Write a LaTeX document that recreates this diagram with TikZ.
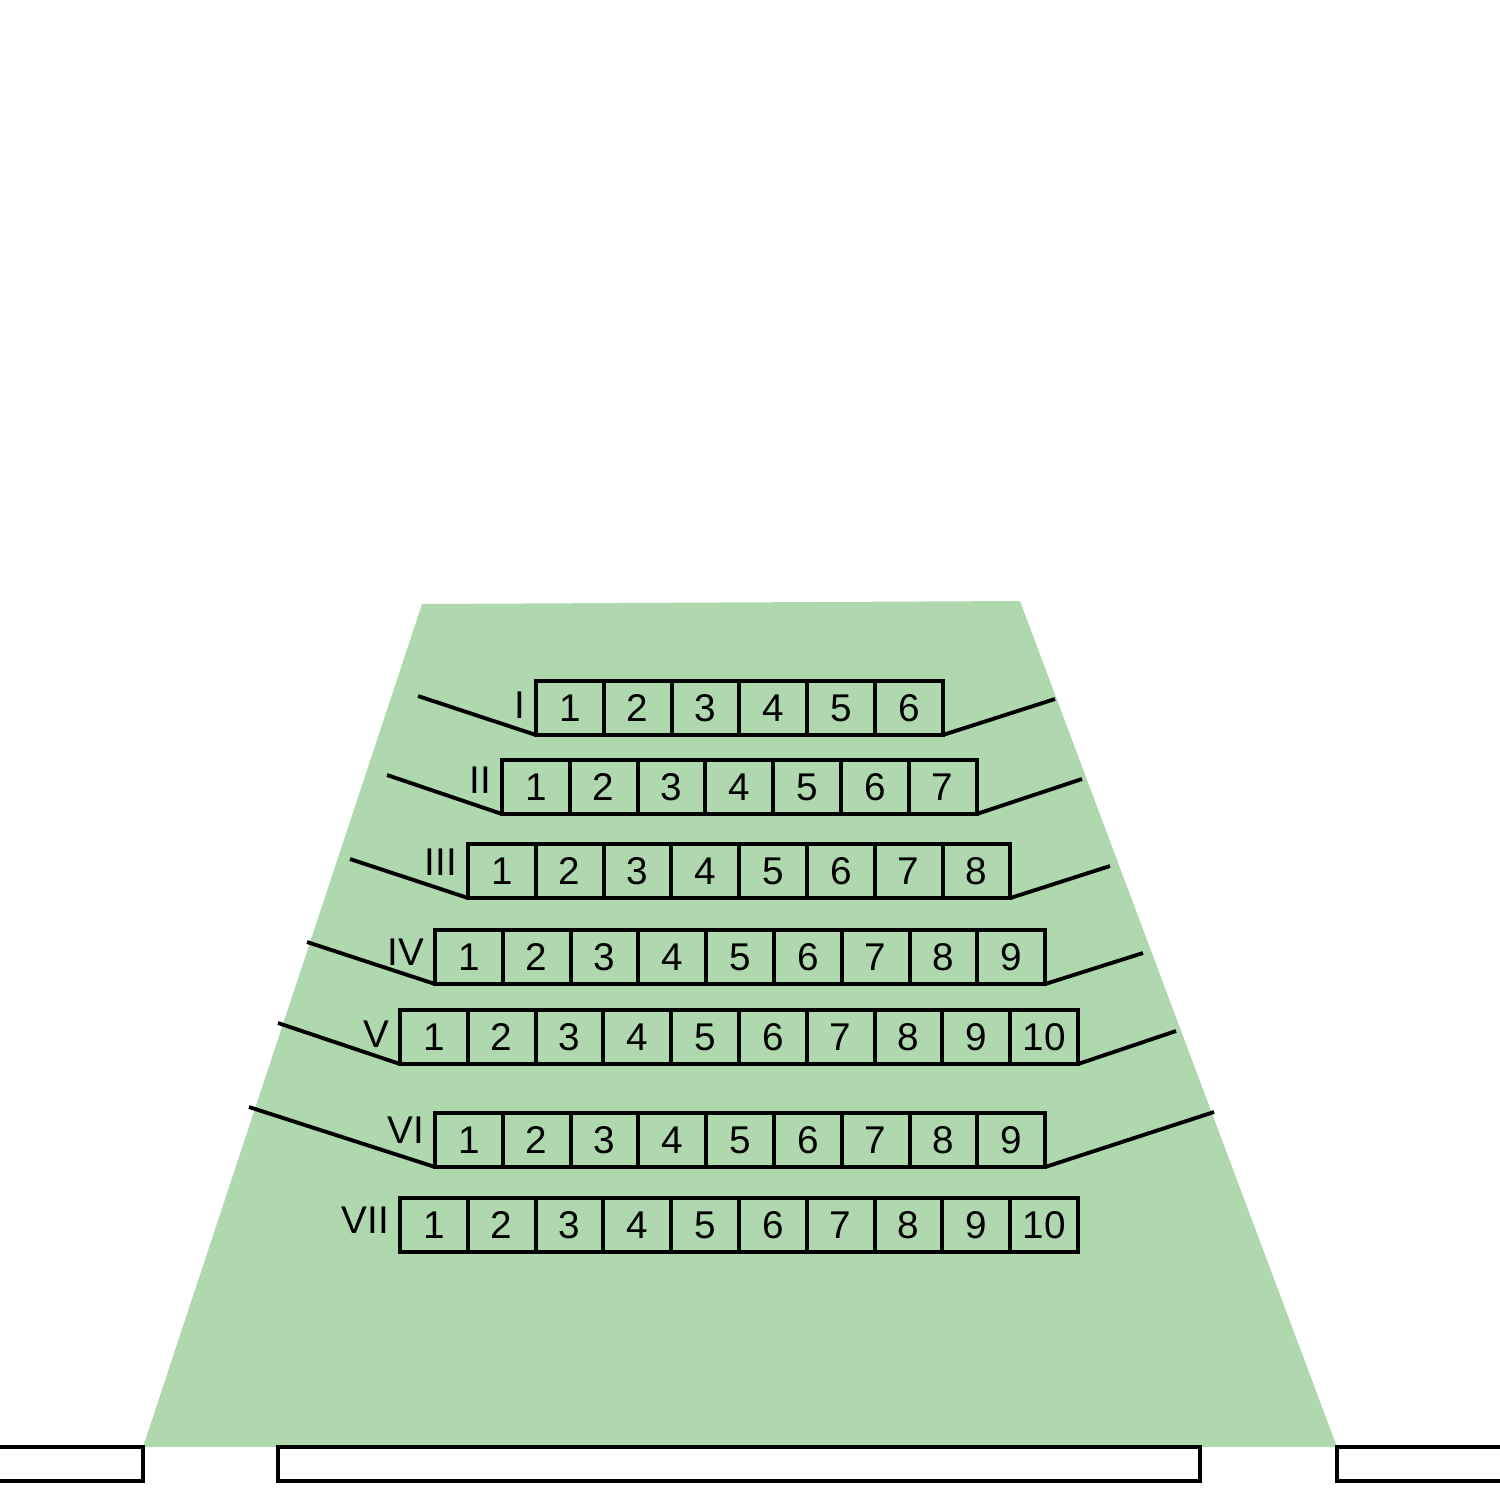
\documentclass[tikz,border=0pt]{standalone}
\usepackage{fontspec}
\setmainfont{Liberation Sans}
\definecolor{seatgreen}{RGB}{176,216,174}
\tikzset{
	seat/.style={draw, line width=1.1pt, minimum width=6.78mm, minimum height=5.4mm, inner sep=0pt, outer sep=0pt, font=\fontsize{11}{13}\selectfont},
	rowname/.style={anchor=east, inner sep=1pt, font=\fontsize{11}{13}\selectfont},
	wing/.style={line width=1.1pt},
	stage/.style={draw, line width=1.1pt, fill=white}
}

\begin{document}
\begin{tikzpicture}[x=0.1mm, y=-0.1mm]
			%%%%% START %%%%%
			\useasboundingbox (0, 0) rectangle (1500, 1500);
			
			\fill[seatgreen] (422, 604) -- (1020, 601) -- (1337, 1447) -- (143, 1447) -- cycle;
			
			% rows: number/name/seats/left/top/label y/left wing/right wing
			\foreach \r/\rom/\n/\x/\y/\ly/\ax/\ay/\bx/\by in {
				1/I/6/536/681/705/418/696/1055/699,
				2/II/7/502/760/780/387/775/1082/779,
				3/III/8/468/844/862/350/859/1110/866,
				4/IV/9/435/930/952/307/942/1143/953,
				5/V/10/400/1010/1034/278/1023/1176/1031,
				6/VI/9/435/1113/1130/249/1107/1214/1112,
				7/VII/10/400/1198/1220/0/0/0/0}
			{
				\foreach \i in {1,...,\n}
					\node[seat] (r\r-\i) at ({\x+(\i-0.5)*67.8}, \y+27) {\i};
				\node[rowname] (name\r) at (\x-7, \ly) {\rom};
				\ifnum\r<7
					\coordinate (lw\r) at (\ax, \ay);
					\coordinate (rw\r) at (\bx, \by);
					\draw[wing] (lw\r) -- (r\r-1.south west);
					\draw[wing] (r\r-\n.south east) -- (rw\r);
				\fi
			}
			
			\draw[stage] (-10, 1447) rectangle (143, 1481);
			\draw[stage] (278, 1447) rectangle (1200, 1481);
			\draw[stage] (1337, 1447) rectangle (1510, 1481);
			
			%%%%% END %%%%%
\end{tikzpicture}
\end{document}
